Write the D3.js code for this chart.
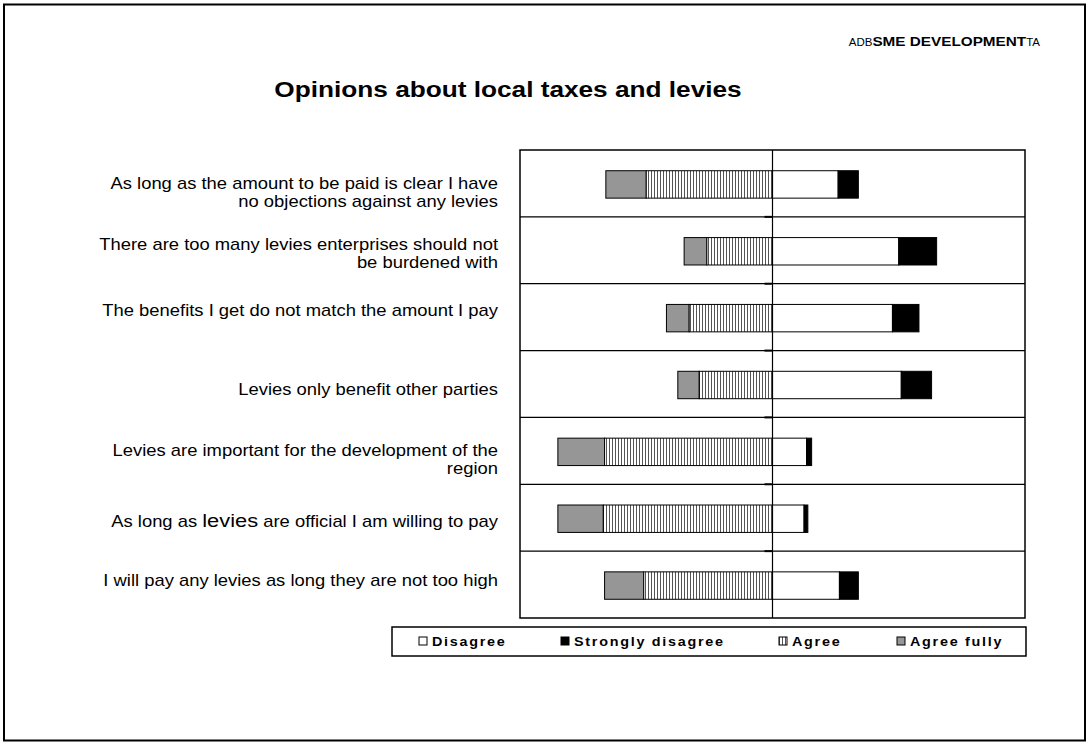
<!DOCTYPE html>
<html>
<head>
<meta charset="utf-8">
<script src="https://cdn.jsdelivr.net/npm/d3@7"></script>
<style>
  body { margin: 0; background: #fff; }
  svg { display: block; font-family: Arial, "Liberation Sans", sans-serif; }
</style>
</head>
<body>
<svg id="chart" width="1086" height="742"></svg>
<script>
// Statements, top to bottom. "\n" breaks a line, {word} marks a word set larger.
const categories = [
  "As long as the amount to be paid is clear I have\nno objections against any levies",
  "There are too many levies enterprises should not\nbe burdened with",
  "The benefits I get do not match the amount I pay",
  "Levies only benefit other parties",
  "Levies are important for the development of the\nregion",
  "As long as {levies} are official I am willing to pay",
  "I will pay any levies as long they are not too high"
];

// Share of respondents (%) per answer
const disagree         = [26, 50, 47.5, 51, 13.5, 12.5, 26.5];
const stronglyDisagree = [8, 15, 10.5, 12, 2, 1.5, 7.5];
const agree            = [50, 26, 33, 29, 66.5, 67, 51];
const agreeFully       = [16, 9, 9, 8.5, 18.5, 18, 15.5];

const seriesNames = ["Disagree", "Strongly disagree", "Agree", "Agree fully"];
const xDomain = [-100, 100];

const titleText = "Opinions about local taxes and levies";
const headerParts = ["ADB", "SME DEVELOPMENT", "TA"];

const svg = d3.select("#chart");
const SX = 1.15; // horizontal text stretch

// vertical hatch for "Agree"
const defs = svg.append("defs");
const pat = defs.append("pattern")
  .attr("id", "hatch").attr("patternUnits", "userSpaceOnUse")
  .attr("width", 3).attr("height", 10);
pat.append("rect").attr("width", 3).attr("height", 10).attr("fill", "#fff");
pat.append("rect").attr("x", 0).attr("width", 1).attr("height", 10).attr("fill", "#555");

const fills = {
  "Disagree": "#ffffff",
  "Strongly disagree": "#000000",
  "Agree": "url(#hatch)",
  "Agree fully": "#969696"
};

// page frame
svg.append("rect")
  .attr("x", 4).attr("y", 4.5).attr("width", 1081).attr("height", 736)
  .attr("fill", "none").attr("stroke", "#000").attr("stroke-width", 2);

// header
const header = svg.append("text")
  .attr("transform", `translate(1040,46) scale(${SX},1)`)
  .attr("text-anchor", "end").attr("fill", "#000");
header.append("tspan").attr("font-size", 10).text(headerParts[0]);
header.append("tspan").attr("font-size", 13.3).attr("font-weight", "bold").text(headerParts[1]);
header.append("tspan").attr("font-size", 10).text(headerParts[2]);

// title
svg.append("text")
  .attr("transform", `translate(508,97) scale(${SX},1)`)
  .attr("text-anchor", "middle")
  .attr("font-size", 22.8).attr("font-weight", "bold")
  .text(titleText);

// scales
const x = d3.scaleLinear().domain(xDomain).range([520, 1025]);
const y = d3.scaleBand().domain(d3.range(categories.length)).range([150, 618]);
const bw = y.bandwidth();
const barH = bw * 0.41;

// plot area
const plot = svg.append("g");
plot.append("rect")
  .attr("x", x(xDomain[0])).attr("y", y.range()[0])
  .attr("width", x(xDomain[1]) - x(xDomain[0]))
  .attr("height", y.range()[1] - y.range()[0])
  .attr("fill", "none").attr("stroke", "#000").attr("stroke-width", 1.5);

// row separators
const bounds = d3.range(1, categories.length).map(i => y(i));
plot.selectAll("line.sep").data(bounds).join("line")
  .attr("class", "sep")
  .attr("x1", x(xDomain[0])).attr("x2", x(xDomain[1]))
  .attr("y1", d => d).attr("y2", d => d)
  .attr("stroke", "#000").attr("stroke-width", 1.2);

// bars
const rows = categories.map((c, i) => {
  const a = agree[i], af = agreeFully[i], d = disagree[i], sd = stronglyDisagree[i];
  return [
    { key: "Agree fully", x0: -(a + af), x1: -a, i },
    { key: "Agree", x0: -a, x1: 0, i },
    { key: "Disagree", x0: 0, x1: d, i },
    { key: "Strongly disagree", x0: d, x1: d + sd, i }
  ];
}).flat();

plot.selectAll("rect.bar").data(rows).join("rect")
  .attr("class", "bar")
  .attr("x", d => x(d.x0))
  .attr("y", d => y(d.i) + (bw - barH) / 2 + 1)
  .attr("width", d => x(d.x1) - x(d.x0))
  .attr("height", barH)
  .attr("fill", d => fills[d.key])
  .attr("stroke", "#000").attr("stroke-width", 1);

// category axis at zero with ticks between rows
plot.append("line")
  .attr("x1", x(0)).attr("x2", x(0))
  .attr("y1", y.range()[0]).attr("y2", y.range()[1])
  .attr("stroke", "#000").attr("stroke-width", 1.2);
plot.selectAll("line.tick").data(bounds).join("line")
  .attr("class", "tick")
  .attr("x1", x(0) - 8).attr("x2", x(0))
  .attr("y1", d => d).attr("y2", d => d)
  .attr("stroke", "#000").attr("stroke-width", 2);

// category labels (set as separate text boxes, each slightly shifted)
const labelSize = 16, lineGap = 18;
const labelShift = [0, -6, -7, 5, 0, 4, -4];
categories.forEach((c, i) => {
  const lines = c.split("\n");
  const cy = y(i) + bw / 2 + labelShift[i];
  const t = svg.append("text")
    .attr("transform", `translate(498,${cy + labelSize * 0.35}) scale(${SX},1)`)
    .attr("text-anchor", "end").attr("font-size", labelSize).attr("fill", "#000");
  lines.forEach((ln, k) => {
    const parts = ln.split(/(\{[^}]+\})/).filter(p => p.length);
    parts.forEach((p, j) => {
      const big = p.startsWith("{");
      const ts = t.append("tspan").text(big ? p.slice(1, -1) : p);
      if (big) ts.attr("font-size", 19);
      if (j === 0) ts.attr("x", 0).attr("dy", k === 0 ? 0 : lineGap);
    });
  });
});

// legend
const legend = svg.append("g");
legend.append("rect")
  .attr("x", 392).attr("y", 627).attr("width", 634).attr("height", 29)
  .attr("fill", "#fff").attr("stroke", "#000").attr("stroke-width", 1.5);
const legendX = [419, 561, 779, 897];
const items = legend.selectAll("g.item").data(seriesNames).join("g")
  .attr("class", "item")
  .attr("transform", (d, i) => `translate(${legendX[i]},641)`);
items.append("rect")
  .attr("x", 0).attr("y", -4).attr("width", 8).attr("height", 8)
  .attr("fill", d => fills[d]).attr("stroke", "#000").attr("stroke-width", 1);
items.append("text")
  .attr("transform", `translate(13,4.8) scale(${SX},1)`)
  .attr("font-size", 12.5).attr("font-weight", "bold")
  .attr("letter-spacing", 1.5)
  .text(d => d);
</script>
</body>
</html>
